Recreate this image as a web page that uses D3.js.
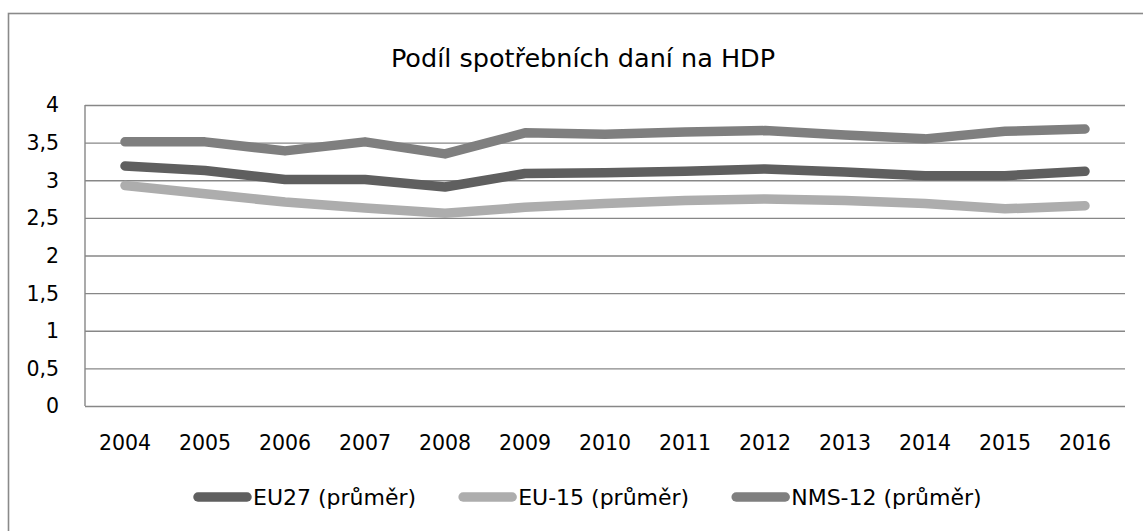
<!DOCTYPE html>
<meta charset="utf-8">
<style>
    body { margin: 0; background: #fff; }
    text {
        font-family: "DejaVu Sans", sans-serif;
        fill: #000;
    }
    .grid line {
        stroke: #878787;
        stroke-width: 1.4px;
    }
    .grid path { stroke-width: 0; }
    .series {
        fill: none;
        stroke-width: 9.5px;
        stroke-linecap: round;
        stroke-linejoin: round;
    }
</style>
<body>
    <svg width="1143" height="531"></svg>
</body>
<script src="https://d3js.org/d3.v7.min.js"></script>
<script>

    // data
    var years = ["2004","2005","2006","2007","2008","2009","2010","2011","2012","2013","2014","2015","2016"];
    var eu27  = [3.19, 3.13, 3.01, 3.01, 2.91, 3.09, 3.10, 3.12, 3.15, 3.11, 3.06, 3.06, 3.12];
    var eu15  = [2.93, 2.82, 2.71, 2.63, 2.56, 2.64, 2.69, 2.73, 2.75, 2.73, 2.69, 2.62, 2.66];
    var nms12 = [3.51, 3.51, 3.39, 3.51, 3.35, 3.63, 3.61, 3.64, 3.66, 3.60, 3.55, 3.65, 3.68];
    var seriesNames  = ["EU27 (průměr)", "EU-15 (průměr)", "NMS-12 (průměr)"];
    var seriesColors = ["#5f5f5f", "#adadad", "#7f7f7f"];
    var yTicks = [0, 0.5, 1, 1.5, 2, 2.5, 3, 3.5, 4];
    var title = "Podíl spotřebních daní na HDP";

    var svg = d3.select("svg"),
        width = +svg.attr("width"),
        height = +svg.attr("height");

    // chart border (runs off the right and bottom edge like the original)
    svg.append("rect")
        .attr("x", 8.5).attr("y", 13.5)
        .attr("width", width).attr("height", height)
        .style("fill", "none")
        .style("stroke", "#8a8a8a")
        .style("stroke-width", 1.6);

    var plot = {left: 85, right: 1125, top: 105, bottom: 406};

    var x = d3.scaleBand()
        .domain(years)
        .range([plot.left, plot.right]);

    var y = d3.scaleLinear()
        .domain([0, 4])
        .range([plot.bottom, plot.top]);

    var fmt = function (d) { return String(d).replace(".", ","); };

    // horizontal gridlines
    svg.append("g")
        .attr("class", "grid")
        .attr("transform", "translate(" + plot.left + ",0)")
        .call(d3.axisRight(y)
            .tickValues(yTicks)
            .tickSize(plot.right - plot.left)
            .tickFormat(""));

    // left axis line
    svg.append("line")
        .attr("x1", plot.left).attr("x2", plot.left)
        .attr("y1", y(4)).attr("y2", y(0))
        .style("stroke", "#878787")
        .style("stroke-width", 1.4);

    // y labels
    svg.append("g").selectAll("text")
        .data(yTicks)
        .enter().append("text")
        .attr("x", 59)
        .attr("y", function (d) { return y(d); })
        .attr("dy", "0.36em")
        .style("text-anchor", "end")
        .style("font-size", "20.5px")
        .text(fmt);

    // x labels
    svg.append("g").selectAll("text")
        .data(years)
        .enter().append("text")
        .attr("x", function (d) { return x(d) + x.bandwidth() / 2; })
        .attr("y", 450)
        .style("text-anchor", "middle")
        .style("font-size", "20.5px")
        .text(function (d) { return d; });

    // title
    svg.append("text")
        .attr("x", 583)
        .attr("y", 67)
        .style("text-anchor", "middle")
        .style("font-size", "25.5px")
        .text(title);

    // the lines
    var allSeries = [eu27, eu15, nms12];
    var line = d3.line()
        .x(function (d, i) { return x(years[i]) + x.bandwidth() / 2; })
        .y(function (d) { return y(d); });

    svg.append("g").selectAll("path")
        .data(allSeries)
        .enter().append("path")
        .attr("class", "series")
        .style("stroke", function (d, i) { return seriesColors[i]; })
        .attr("d", line);

    // legend, laid out left to right
    var legendX = 194, legendY = 497;
    seriesNames.forEach(function (name, i) {
        var g = svg.append("g").attr("transform", "translate(" + legendX + "," + legendY + ")");
        g.append("line")
            .attr("x1", 4).attr("x2", 53)
            .attr("class", "series")
            .style("stroke", seriesColors[i]);
        var t = g.append("text")
            .attr("x", 59)
            .attr("dy", "0.36em")
            .style("font-size", "22px")
            .text(name);
        legendX += 59 + t.node().getComputedTextLength() + 43;
    });

</script>
